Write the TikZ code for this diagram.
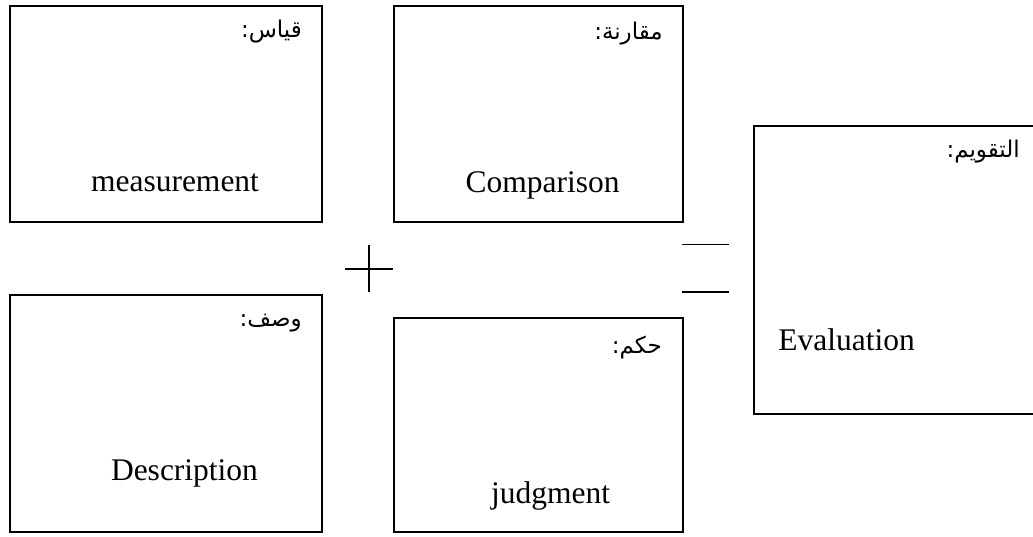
\documentclass[tikz,border=0pt]{standalone}
\usepackage{fontspec}
\setmainfont{Liberation Serif}
\newfontfamily\arabicfont[Script=Arabic]{DejaVu Sans}
\TeXXeTstate=1
\begin{document}
\begin{tikzpicture}[x=1pt,y=-1pt,
  box/.style={draw, line width=2pt, inner sep=0pt, anchor=north west},
  en/.style={font=\fontsize{31.5}{36}\selectfont, anchor=base, inner sep=0pt},
  ar/.style={font=\arabicfont\fontsize{23}{27}\selectfont, anchor=base east, inner sep=0pt},
  sym/.style={line width=1.5pt}]
\useasboundingbox (0,0) rectangle (1033,536);
% boxes
\node[box, minimum width=312.5pt, minimum height=216pt] (mbox) at (8.5,5) {};
\node[box, minimum width=289pt, minimum height=216pt] (cbox) at (393,5) {};
\node[box, minimum width=312.5pt, minimum height=237pt] (dbox) at (8.5,293.5) {};
\node[box, minimum width=289pt, minimum height=214pt] (jbox) at (393,316.5) {};
\node[box, minimum width=286pt, minimum height=288pt] (ebox) at (753,125) {};
% english labels
\node[en] (mtxt) at (175,191) {measurement};
\node[en] (ctxt) at (542.5,192) {Comparison};
\node[en] (dtxt) at (184.5,480) {Description};
\node[en] (jtxt) at (550.5,503) {judgment};
\node[en] (etxt) at (846.5,350) {Evaluation};
% arabic labels
\node[ar] (mar) at (302,37) {\beginR قياس:\endR};
\node[ar] (car) at (663,39) {\beginR مقارنة:\endR};
\node[ar] (dar) at (302,326) {\beginR وصف:\endR};
\node[ar] (jar) at (662,353) {\beginR حكم:\endR};
\node[ar] (ear) at (1020,157) {\beginR التقويم:\endR};
% plus sign
\coordinate (pt) at (369,245);
\coordinate (pb) at (369,292);
\coordinate (pl) at (345,269);
\coordinate (pr) at (393,269);
\draw[sym] (pt) -- (pb);
\draw[sym] (pl) -- (pr);
% equals sign
\coordinate (e1l) at (682,244.7);
\coordinate (e1r) at (729,244.7);
\coordinate (e2l) at (682,292);
\coordinate (e2r) at (729,292);
\draw[sym] (e1l) -- (e1r);
\draw[sym] (e2l) -- (e2r);
\end{tikzpicture}
\end{document}
